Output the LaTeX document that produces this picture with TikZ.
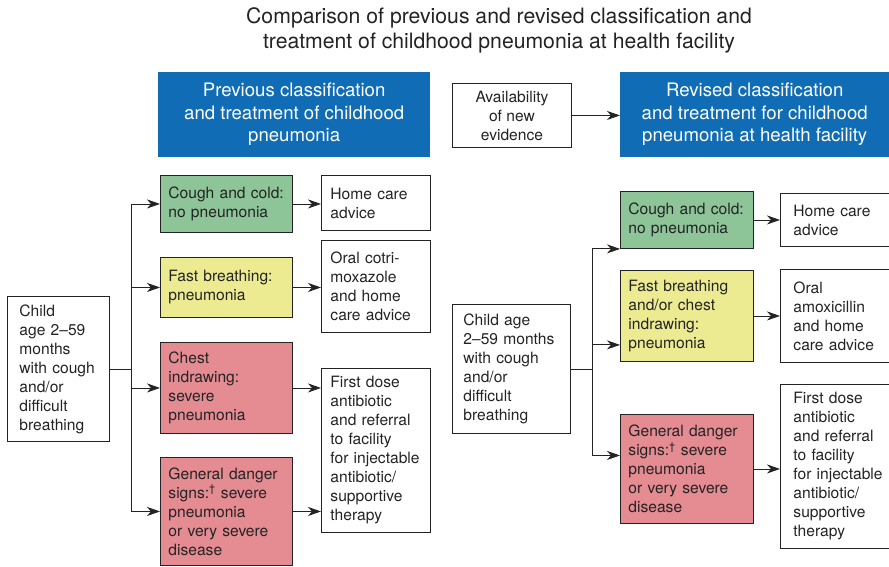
\documentclass[tikz,border=0pt]{standalone}
\usepackage{fontspec}
\setmainfont{TeX Gyre Heros}
\usetikzlibrary{arrows.meta}
\definecolor{headblue}{RGB}{16,108,180}
\definecolor{nogreen}{RGB}{142,197,152}
\definecolor{fastyellow}{RGB}{237,235,145}
\definecolor{severered}{RGB}{229,140,146}
\definecolor{inkgray}{RGB}{35,35,35}
\newcommand\bodyfont{\fontsize{15.6}{19}\selectfont}
\newcommand\headfont{\fontsize{18.6}{22.5}\selectfont}
\newcommand\titlefont{\fontsize{21.2}{25}\selectfont}

\begin{document}
\begin{tikzpicture}[x=1pt, y=-1pt, text=inkgray,
  box/.style={draw=inkgray, line width=.9pt, anchor=north west, align=left, inner xsep=9pt, font=\bodyfont},
  head/.style={fill=headblue, text=white, anchor=north west, align=center, font=\headfont},
  arr/.style={draw=inkgray, line width=.9pt, -{Stealth[length=13pt,width=9pt,inset=4pt]}},
  trunk/.style={draw=inkgray, line width=.9pt}]
            \useasboundingbox (0,0) rectangle (889,566);
            \node[font=\titlefont, align=center] (title) at (499,30) {Comparison of previous and revised classification and\\treatment of childhood pneumonia at health facility};
            \node[head, minimum width=272pt, minimum height=85pt] (prevhead) at (158,72) {Previous classification\\and treatment of childhood\\pneumonia};
            \node[box, align=center, minimum width=119pt, minimum height=64pt] (evidence) at (452,83) {Availability\\of new\\evidence};
            \node[head, minimum width=269pt, minimum height=85pt] (revhead) at (620,72) {Revised classification\\and treatment for childhood\\pneumonia at health facility};
            % previous scheme
            \node[box, inner xsep=12pt, text width=78pt, minimum height=145pt] (childL) at (7,296) {Child\\age 2--59\\months\\with cough\\and/or\\difficult\\breathing};
            \node[box, fill=nogreen, inner xsep=8pt, text width=116pt, minimum height=57pt] (noL) at (160,175) {Cough and cold:\\no pneumonia};
            \node[box, fill=fastyellow, inner xsep=8pt, text width=116pt, minimum height=60pt] (fastL) at (160,257) {Fast breathing:\\pneumonia};
            \node[box, fill=severered, inner xsep=8pt, text width=116pt, minimum height=91pt] (chestL) at (160,342) {Chest\\indrawing:\\severe\\pneumonia};
            \node[box, fill=severered, inner xsep=8pt, text width=116pt, minimum height=108pt] (dangerL) at (160,457) {General danger\\signs:\textsuperscript{\textdagger} severe\\pneumonia\\or very severe\\disease};
            \node[box, text width=91pt, minimum height=55pt] (homeL) at (321,175) {Home care\\advice};
            \node[box, text width=91pt, minimum height=92pt] (oralL) at (321,240) {Oral cotri-\\moxazole\\and home\\care advice};
            \node[box, text width=91pt, minimum height=164pt] (firstL) at (321,368) {First dose\\antibiotic\\and referral\\to facility\\for injectable\\antibiotic/\\supportive\\therapy};
            % revised scheme
            \node[box, inner xsep=11pt, text width=96pt, minimum height=129pt] (childR) at (452,304) {Child age\\2--59 months\\with cough\\and/or\\difficult\\breathing};
            \node[box, fill=nogreen, inner xsep=8pt, text width=117pt, minimum height=57pt] (noR) at (620,191) {Cough and cold:\\no pneumonia};
            \node[box, fill=fastyellow, inner xsep=8pt, text width=117pt, minimum height=91pt] (fastR) at (620,270) {Fast breathing\\and/or chest\\indrawing:\\pneumonia};
            \node[box, fill=severered, inner xsep=8pt, text width=117pt, minimum height=109pt] (dangerR) at (620,414) {General danger\\signs:\textsuperscript{\textdagger} severe\\pneumonia\\or very severe\\disease};
            \node[box, inner xsep=13pt, text width=94pt, minimum height=53pt] (homeR) at (780,193) {Home care\\advice};
            \node[box, inner xsep=13pt, text width=94pt, minimum height=93pt] (oralR) at (780,269) {Oral\\amoxicillin\\and home\\care advice};
            \node[box, inner xsep=13pt, text width=94pt, minimum height=164pt] (firstR) at (780,384) {First dose\\antibiotic\\and referral\\to facility\\for injectable\\antibiotic/\\supportive\\therapy};
            % connectors
            \draw[arr] (evidence.east) -- (evidence.east -| revhead.west);
            \coordinate (jL) at ([xshift=22pt]childL.east);
            \draw[trunk] (childL.east) -- (jL);
            \draw[arr] (jL) |- (noL.west);
            \draw[arr] (jL) |- (fastL.west);
            \draw[arr] (jL) |- (chestL.west);
            \draw[arr] (jL) |- (dangerL.west);
            \draw[arr] (noL.east) -- (noL.east -| homeL.west);
            \draw[arr] (fastL.east) -- (fastL.east -| oralL.west);
            \draw[arr] (chestL.east) -- (chestL.east -| firstL.west);
            \draw[arr] (dangerL.east) -- (dangerL.east -| firstL.west);
            \coordinate (jR) at ([xshift=22pt]childR.east);
            \draw[trunk] (childR.east) -- (jR);
            \draw[arr] (jR) |- (noR.south west);
            \draw[arr] (jR) |- ([yshift=17pt]fastR.south west);
            \draw[arr] (jR) |- ([yshift=13.5pt]dangerR.west);
            \draw[arr] (noR.east) -- (noR.east -| homeR.west);
            \draw[arr] (fastR.east) -- (fastR.east -| oralR.west);
            \draw[arr] (dangerR.east) -- (dangerR.east -| firstR.west);
        \end{tikzpicture}
\end{document}
